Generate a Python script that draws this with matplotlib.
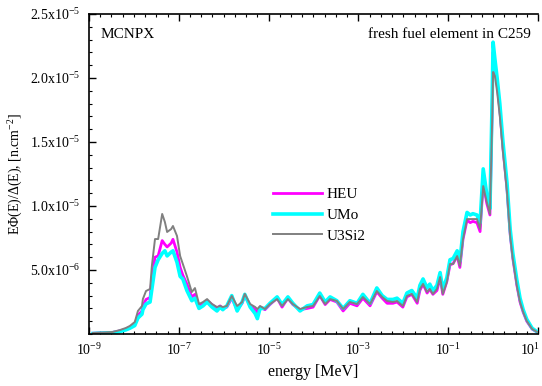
import numpy as np
import matplotlib
matplotlib.use('Agg')
import matplotlib.pyplot as plt
from matplotlib.ticker import FixedLocator, FuncFormatter, MultipleLocator, NullFormatter

plt.rcParams['font.family'] = ['Liberation Serif', 'DejaVu Serif']
plt.rcParams['mathtext.fontset'] = 'custom'
plt.rcParams['mathtext.rm'] = 'Liberation Serif'
plt.rcParams['mathtext.it'] = 'Liberation Serif:italic'

# log10 of energy [MeV]
log_energy = [-8.91, -8.64, -8.47, -8.31, -8.18, -8.09, -7.98, -7.91, -7.82, -7.80,
              -7.73, -7.64, -7.60, -7.53, -7.46, -7.37, -7.31, -7.26, -7.17, -7.13,
              -7.04, -6.97, -6.91, -6.82, -6.71, -6.64, -6.55, -6.46, -6.37, -6.26,
              -6.15, -6.08, -6.02, -5.93, -5.82, -5.70, -5.59, -5.53, -5.41, -5.30,
              -5.25, -5.19, -5.08, -4.97, -4.81, -4.70, -4.57, -4.46, -4.30, -4.14,
              -4.01, -3.86, -3.74, -3.63, -3.48, -3.34, -3.19, -3.03, -2.90, -2.74,
              -2.59, -2.47, -2.36, -2.23, -2.14, -2.01, -1.92, -1.81, -1.69, -1.63,
              -1.56, -1.47, -1.41, -1.34, -1.25, -1.18, -1.12, -1.03, -0.96, -0.89,
              -0.80, -0.74, -0.67, -0.58, -0.51, -0.45, -0.36, -0.29, -0.22, -0.14,
              -0.07, -0.02, 0.00, 0.04, 0.09, 0.15, 0.22, 0.31, 0.38, 0.44,
              0.53, 0.60, 0.67, 0.75, 0.87, 0.98]

# flux per lethargy, units of 1e-6 n/cm2
heu = [0.06, 0.10, 0.13, 0.25, 0.38, 0.52, 0.78, 1.45, 1.80, 2.20,
       2.70, 2.85, 4.30, 6.00, 6.10, 7.30, 7.00, 6.80, 7.10, 7.40,
       6.40, 5.20, 4.60, 3.90, 2.90, 3.10, 2.20, 2.40, 2.60, 2.30,
       2.00, 2.20, 2.00, 2.10, 2.80, 1.90, 2.40, 3.00, 2.20, 1.90,
       1.70, 2.10, 1.90, 2.30, 2.80, 2.10, 2.80, 2.30, 1.90, 2.00,
       2.10, 3.00, 2.30, 2.70, 2.50, 1.80, 2.40, 2.20, 2.80, 2.20,
       3.30, 2.80, 2.40, 2.40, 2.50, 2.10, 2.90, 3.10, 2.40, 3.40,
       3.90, 3.20, 3.50, 3.10, 3.40, 4.40, 3.10, 4.10, 5.40, 5.50,
       6.10, 5.20, 7.40, 8.90, 8.70, 8.80, 8.70, 8.00, 11.80, 10.20,
       9.30, 17.50, 22.00, 20.80, 19.50, 17.50, 14.50, 11.30, 7.80, 5.90,
       3.80, 2.50, 1.70, 1.00, 0.38, 0.15]

umo = [0.04, 0.08, 0.10, 0.20, 0.32, 0.45, 0.66, 1.25, 1.55, 1.90,
       2.35, 2.50, 3.50, 5.20, 5.80, 6.30, 6.50, 6.10, 6.40, 6.50,
       5.60, 4.50, 4.30, 3.40, 2.60, 2.80, 2.00, 2.20, 2.50, 2.10,
       1.80, 2.10, 1.90, 2.20, 3.00, 1.80, 2.50, 3.10, 2.10, 1.60,
       1.20, 2.00, 2.00, 2.40, 2.90, 2.30, 2.90, 2.40, 1.80, 2.20,
       2.30, 3.20, 2.50, 2.90, 2.60, 2.00, 2.60, 2.40, 3.10, 2.40,
       3.60, 3.00, 2.70, 2.70, 2.80, 2.40, 3.20, 3.40, 2.80, 3.80,
       4.30, 3.60, 3.90, 3.40, 3.80, 4.80, 3.50, 4.40, 5.80, 5.90,
       6.50, 5.70, 8.00, 9.50, 9.30, 9.40, 9.30, 8.70, 12.90, 10.90,
       9.80, 18.50, 22.80, 21.50, 20.00, 18.00, 15.00, 11.80, 8.20, 6.30,
       4.20, 2.80, 1.90, 1.15, 0.45, 0.18]

u3si2 = [0.08, 0.12, 0.16, 0.31, 0.47, 0.63, 0.94, 1.80, 2.19, 2.73,
         3.36, 3.52, 5.31, 7.42, 7.42, 9.38, 8.75, 7.97, 8.20, 8.44,
         7.66, 6.09, 5.47, 4.53, 3.28, 3.59, 2.34, 2.50, 2.73, 2.34,
         2.11, 2.19, 2.11, 2.19, 2.97, 2.19, 2.50, 3.13, 2.34, 2.11,
         1.95, 2.19, 1.95, 2.34, 2.73, 2.19, 2.73, 2.34, 1.95, 2.11,
         2.19, 2.97, 2.34, 2.73, 2.58, 1.95, 2.50, 2.34, 2.89, 2.34,
         3.36, 2.89, 2.58, 2.50, 2.58, 2.19, 2.97, 3.13, 2.50, 3.52,
         3.91, 3.28, 3.52, 3.13, 3.52, 4.45, 3.13, 4.06, 5.47, 5.47,
         6.09, 5.31, 7.42, 8.98, 8.98, 8.98, 8.98, 8.20, 11.56, 10.31,
         9.38, 16.80, 20.47, 20.16, 18.91, 17.03, 14.22, 11.09, 7.66, 5.86,
         3.75, 2.50, 1.72, 1.02, 0.39, 0.16]

x_exponents = [-9, -7, -5, -3, -1, 1]

energy = 10.0 ** np.array(log_energy)

fig = plt.figure(figsize=(5.42, 3.86), dpi=100)
ax = fig.add_axes([0.1642, 0.1347, 0.8284, 0.829])

ax.plot(energy, np.array(heu) * 1e-6, color='#ff00ff', lw=2.0, label='HEU')
ax.plot(energy, np.array(umo) * 1e-6, color='#00ffff', lw=2.6, label='UMo')
ax.plot(energy, np.array(u3si2) * 1e-6, color='#808080', lw=1.4, label='U3Si2')

ax.set_xscale('log')
ax.set_xlim(1e-9, 1e1)
ax.set_ylim(0, 2.5e-5)

# x ticks; the last label sits at the figure edge, so draw it nudged left
ax.set_xticks([10.0 ** k for k in x_exponents])
ax.set_xticklabels([r'10$^{%d}$' % k for k in x_exponents[:-1]] + [''])
ax.annotate(r'10$^{%d}$' % x_exponents[-1], xy=(10.0 ** x_exponents[-1], 0),
            xycoords=ax.get_xaxis_transform(), xytext=(-6, -6),
            textcoords='offset points', ha='center', va='top', fontsize=10)
ax.xaxis.set_minor_locator(FixedLocator([10.0 ** (k / 4) for k in range(-36, 5)]))
ax.xaxis.set_minor_formatter(NullFormatter())

# y ticks
ax.yaxis.set_major_locator(FixedLocator([5e-6, 1e-5, 1.5e-5, 2e-5, 2.5e-5]))
ax.yaxis.set_major_formatter(FuncFormatter(lambda v, p: r'%.1fx10$^{%d}$' % (
    v / 10.0 ** np.floor(np.log10(v)), np.floor(np.log10(v)))))
ax.yaxis.set_minor_locator(MultipleLocator(1e-6))

ax.tick_params(which='both', direction='in', top=True, right=False, labelsize=10, pad=6)
ax.tick_params(which='major', length=5, width=1)
ax.tick_params(which='minor', length=2.5, width=0.8)
ax.spines['right'].set_visible(False)
for s in ['left', 'bottom', 'top']:
    ax.spines[s].set_linewidth(1.2)

ax.set_xlabel('energy [MeV]', fontsize=11.5)
ax.set_ylabel(r'E$\Phi$(E)/$\Delta$(E), [n.cm$^{-2}$]', fontsize=10)

ax.text(0.025, 0.955, 'MCNPX', transform=ax.transAxes, fontsize=11, va='top', ha='left')
ax.text(0.985, 0.955, 'fresh fuel element in C259', transform=ax.transAxes,
        fontsize=11, va='top', ha='right')

ax.legend(loc='upper left', bbox_to_anchor=(0.38, 0.50), frameon=False, fontsize=11,
          handlelength=3.2, labelspacing=0.45, handletextpad=0.3)

fig.savefig('out.png', dpi=100)
